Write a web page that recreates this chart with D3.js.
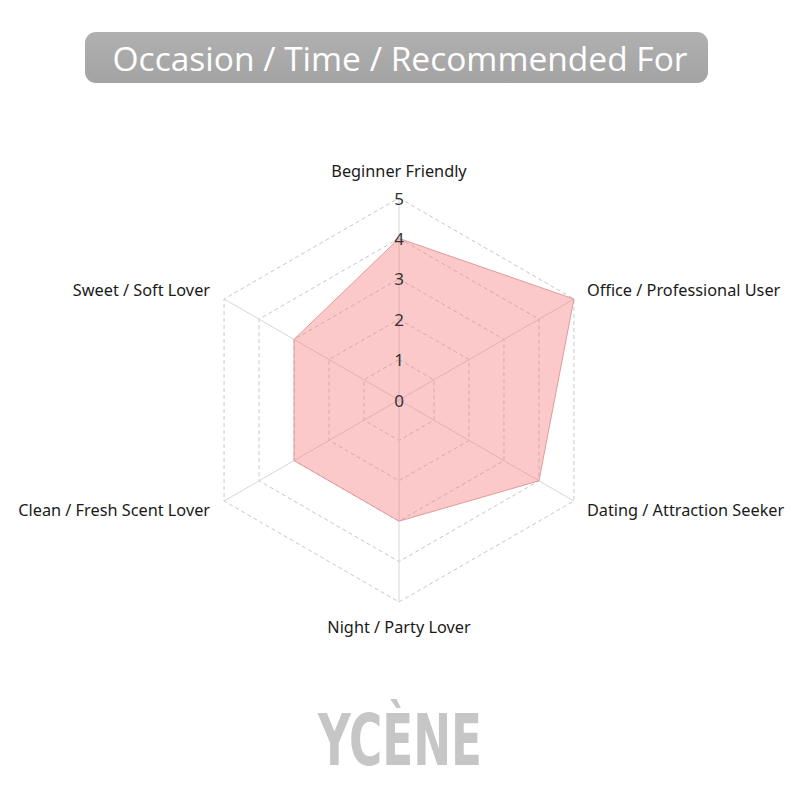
<!DOCTYPE html>
<html>
<head>
<meta charset="utf-8">
<script src="https://cdn.jsdelivr.net/npm/d3@7"></script>
<style>
  html, body { margin: 0; padding: 0; background: #fff; }
  svg { display: block; }
</style>
</head>
<body>
<svg id="chart" width="800" height="800"></svg>
<script>
const title = "Occasion / Time / Recommended For";
const categories = [
  "Beginner Friendly",
  "Office / Professional User",
  "Dating / Attraction Seeker",
  "Night / Party Lover",
  "Clean / Fresh Scent Lover",
  "Sweet / Soft Lover"
];
const values = [4, 5, 4, 3, 3, 3];
const tickValues = [0, 1, 2, 3, 4, 5];
const brand = "YCÈNE";

const svg = d3.select("#chart");
const cx = 399, cy = 400, R = 202;
const font = "'Noto Sans', 'Open Sans', sans-serif";

// Title box
const defs = svg.append("defs");
const grad = defs.append("linearGradient").attr("id", "tg").attr("x1", 0).attr("y1", 0).attr("x2", 0).attr("y2", 1);
grad.append("stop").attr("offset", "0%").attr("stop-color", "#b0b0b0");
grad.append("stop").attr("offset", "100%").attr("stop-color", "#a3a3a3");
svg.append("rect")
  .attr("x", 85).attr("y", 32).attr("width", 623).attr("height", 51)
  .attr("rx", 11).attr("fill", "url(#tg)");
svg.append("text")
  .attr("x", 400).attr("y", 58)
  .attr("text-anchor", "middle").attr("dominant-baseline", "central")
  .attr("font-family", "'Open Sans', 'Noto Sans', sans-serif")
  .attr("font-size", 33.5).attr("fill", "#ffffff")
  .attr("textLength", 575).attr("lengthAdjust", "spacingAndGlyphs")
  .text(title);

const n = categories.length;
const angle = d3.scaleLinear().domain([0, n]).range([0, 2 * Math.PI]);
const r = d3.scaleLinear().domain([0, 5]).range([0, R]);
const pt = (i, v) => [cx + r(v) * Math.sin(angle(i)), cy - r(v) * Math.cos(angle(i))];

const g = svg.append("g");

// Grid rings
tickValues.filter(t => t > 0).forEach(t => {
  const pts = d3.range(n).map(i => pt(i, t));
  g.append("polygon")
    .attr("points", pts.map(p => p.join(",")).join(" "))
    .attr("fill", "none").attr("stroke", "#c8c8c8")
    .attr("stroke-width", 1).attr("stroke-dasharray", "4,3");
});

// Spokes
d3.range(n).forEach(i => {
  const p = pt(i, 5);
  g.append("line")
    .attr("x1", cx).attr("y1", cy).attr("x2", p[0]).attr("y2", p[1])
    .attr("stroke", "#d6d6d6").attr("stroke-width", 1);
});

// Data polygon
const line = d3.line().curve(d3.curveLinearClosed);
g.append("path")
  .attr("d", line(values.map((v, i) => pt(i, v))))
  .attr("fill", "rgb(245,120,120)").attr("fill-opacity", 0.4)
  .attr("stroke", "#e39a9a").attr("stroke-width", 1);

// Tick labels
tickValues.forEach(t => {
  g.append("text")
    .attr("x", cx).attr("y", cy - r(t))
    .attr("text-anchor", "middle").attr("dominant-baseline", "central")
    .attr("font-family", font).attr("font-size", 17).attr("fill", "#333")
    .text(t);
});

// Axis labels
categories.forEach((c, i) => {
  const p = pt(i, 5);
  const s = Math.sin(angle(i)), co = Math.cos(angle(i));
  let anchor = "middle", dx = 0, dy;
  if (Math.abs(s) > 0.01) { anchor = s > 0 ? "start" : "end"; dx = s > 0 ? 13 : -14; dy = -co * 18; }
  else { dy = co > 0 ? -27 : 25; }
  g.append("text")
    .attr("x", p[0] + dx).attr("y", p[1] + dy)
    .attr("text-anchor", anchor).attr("dominant-baseline", "central")
    .attr("font-family", font).attr("font-size", 16.3).attr("fill", "#1a1a1a")
    .text(c);
});

// Brand
svg.append("text")
  .attr("x", 318).attr("y", 765)
  .attr("font-family", "'Liberation Sans Narrow', 'DejaVu Sans Condensed', sans-serif")
  .attr("font-weight", "bold").attr("font-size", 72).attr("fill", "#c6c6c6")
  .attr("textLength", 164).attr("lengthAdjust", "spacingAndGlyphs")
  .text(brand);
</script>
</body>
</html>
